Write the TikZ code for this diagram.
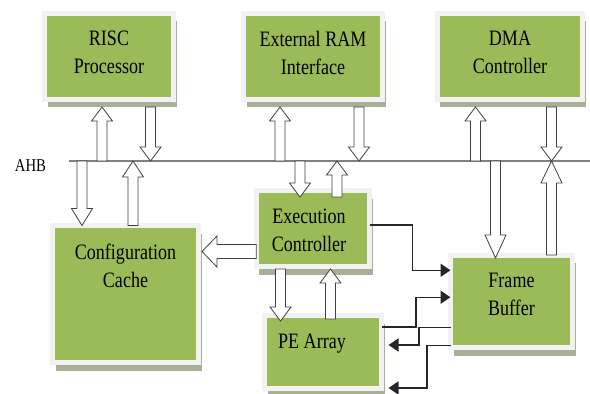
\documentclass[tikz,border=0pt]{standalone}
\usepackage{fontspec}
\setmainfont{Liberation Serif}[FakeStretch=0.82]
\usepackage{tikz}
\usetikzlibrary{calc,shadows,arrows.meta,positioning}

\definecolor{blkgreen}{RGB}{155,187,89}
\definecolor{blkframe}{RGB}{242,242,242}
\definecolor{blkshade}{RGB}{168,176,152}
\definecolor{busgrey}{RGB}{128,128,128}
\definecolor{wirecol}{RGB}{38,38,38}

\tikzset{
  blk/.style={draw=blkframe, line width=5pt, fill=blkgreen, inner sep=0pt, outer sep=0pt,
    drop shadow={shadow xshift=3pt, shadow yshift=-8pt, fill=blkshade, opacity=1}},
  lbl/.style={font=\fontsize{22}{28}\selectfont, align=center, anchor=north,
    yshift=-18pt, inner sep=0pt},
  hollow/.style={draw=black!75, line width=0.8pt, fill=white, line join=miter},
  fatarrow/.style n args={3}{to path={
    ($(\tikztostart)!#1!-90:(\tikztotarget)$)
    -- ($(\tikztotarget)!#3!(\tikztostart)!#1!90:(\tikztostart)$)
    -- ($(\tikztotarget)!#3!(\tikztostart)!#2!90:(\tikztostart)$)
    -- (\tikztotarget)
    -- ($(\tikztotarget)!#3!(\tikztostart)!#2!-90:(\tikztostart)$)
    -- ($(\tikztotarget)!#3!(\tikztostart)!#1!-90:(\tikztostart)$)
    -- ($(\tikztostart)!#1!90:(\tikztotarget)$) -- cycle}},
  fat/.style={hollow, fatarrow={5pt}{10.5pt}{#1}},
  fat/.default=14pt,
  bigfat/.style={hollow, fatarrow={7pt}{15.5pt}{15pt}},
  bus/.style={draw=busgrey, line width=1.5pt},
  wire/.style={draw=wirecol, line width=1.5pt, -{Triangle[length=10pt,width=13pt]}}
}

\begin{document}
\begin{tikzpicture}[x=1pt, y=-1pt]
  \useasboundingbox[fill=white] (0,0) rectangle (590,394);

  % blocks
  \node[blk, minimum width=129pt, minimum height=86pt,
    label={[lbl]north:RISC\\Processor}] (risc) at (109,56) {};
  \node[blk, minimum width=139pt, minimum height=86pt,
    label={[lbl]north:External RAM\\Interface}] (ram) at (313,56) {};
  \node[blk, minimum width=145.5pt, minimum height=86pt,
    label={[lbl]north:DMA\\Controller}] (dma) at (510,56) {};
  \node[blk, minimum width=146pt, minimum height=137pt,
    label={[lbl]north:Configuration\\Cache}] (cache) at (125.5,294) {};
  \node[blk, minimum width=113.5pt, minimum height=76pt,
    label={[lbl,xshift=-4pt]north:Execution\\Controller}] (exec) at (313,228.5) {};
  \node[blk, minimum width=117pt, minimum height=73pt,
    label={[lbl,xshift=-11pt]north:PE Array}] (pe) at (323,352) {};
  \node[blk, minimum width=122pt, minimum height=92.5pt,
    label={[lbl]north:Frame\\Buffer}] (frame) at (511.5,301.25) {};

  % AHB bus
  \coordinate (busL) at (69,161);
  \coordinate (busR) at (590,161);
  \draw[bus] (busL) -- (busR);
  \node[font=\fontsize{18}{20}\selectfont, inner sep=0pt] (ahb) at (30.5,166) {AHB};

  % taps on the bus
  \coordinate (ta) at ([xshift=-7pt]risc.south |- busL);
  \coordinate (tb) at ([xshift=41.5pt]risc.south |- busL);
  \coordinate (tc) at ([xshift=-43.5pt]cache.north |- busL);
  \coordinate (td) at ([xshift=7.5pt]cache.north |- busL);
  \coordinate (te) at ([xshift=-33pt]ram.south |- busL);
  \coordinate (tf) at ([xshift=46pt]ram.south |- busL);
  \coordinate (tg) at ([xshift=-13pt]exec.north |- busL);
  \coordinate (th) at ([xshift=24pt]exec.north |- busL);
  \coordinate (ti) at ([xshift=-34.5pt]dma.south |- busL);
  \coordinate (tj) at ([xshift=-16pt]frame.north |- busL);
  \coordinate (tk) at ([xshift=41.5pt]dma.south |- busL);

  % ends on the blocks
  \coordinate (ra) at ([yshift=-8pt]ta |- risc.south);
  \coordinate (rb) at ([yshift=-8pt]tb |- risc.south);
  \coordinate (rc) at (tc |- cache.north);
  \coordinate (rd) at (td |- cache.north);
  \coordinate (re) at ([yshift=-8pt]te |- ram.south);
  \coordinate (rf) at ([yshift=-8pt]tf |- ram.south);
  \coordinate (rg) at ([yshift=-6.5pt]tg |- exec.north);
  \coordinate (rh) at ([yshift=-6.5pt]th |- exec.north);
  \coordinate (ri) at ([yshift=-8pt]ti |- dma.south);
  \coordinate (rk) at ([yshift=-8pt]tk |- dma.south);
  \coordinate (rj) at ([yshift=-3pt]tj |- frame.north);
  \coordinate (rl) at (tk |- frame.north);
  \coordinate (ep1) at ([xshift=-32.5pt,yshift=-2.5pt]exec.south);
  \coordinate (ep2) at ([yshift=-5.5pt]ep1 |- pe.north);
  \coordinate (ep3) at ([xshift=17.5pt,yshift=-2.5pt]exec.south);
  \coordinate (ep4) at ([yshift=-3.5pt]ep3 |- pe.north);
  \coordinate (ec1) at ([yshift=-23pt]exec.west);
  \coordinate (ec2) at ([xshift=3.5pt]ec1 -| cache.east);

  % hollow arrows
  \draw[fat] (ta) to (ra);
  \draw[fat] (rb) to (tb);
  \draw[fat=17pt] (tc) to (rc);
  \draw[fat=16pt] (rd) to (td);
  \draw[fat] (te) to (re);
  \draw[fat] (rf) to (tf);
  \draw[fat] (tg) to (rg);
  \draw[fat] (rh) to (th);
  \draw[fat] (ti) to (ri);
  \draw[fat] (rk) to (tk);
  \draw[fat=23pt] (tj) to (rj);
  \draw[fat=22pt] (rl) to (tk);
  \draw[fat] (ep1) to (ep2);
  \draw[fat] (ep4) to (ep3);
  \draw[bigfat] (ec1) to (ec2);

  % data lines
  \draw[wire] ([yshift=3.5pt]exec.east) -- ++(42.5,0) |- ([yshift=31pt]frame.west);
  \draw[wire] ([yshift=25pt]pe.east) -- ++(34.5,0) |- ([yshift=4pt]frame.west);
  \draw[wire, shorten >=7pt] ([yshift=-26pt]frame.west) -- ++(-31.5,0) |- ([yshift=7pt]pe.east);
  \draw[wire, shorten >=7pt] ([yshift=-44pt]frame.west) -- ++(-23.5,0) |- ([yshift=-36pt]pe.east);
\end{tikzpicture}
\end{document}
